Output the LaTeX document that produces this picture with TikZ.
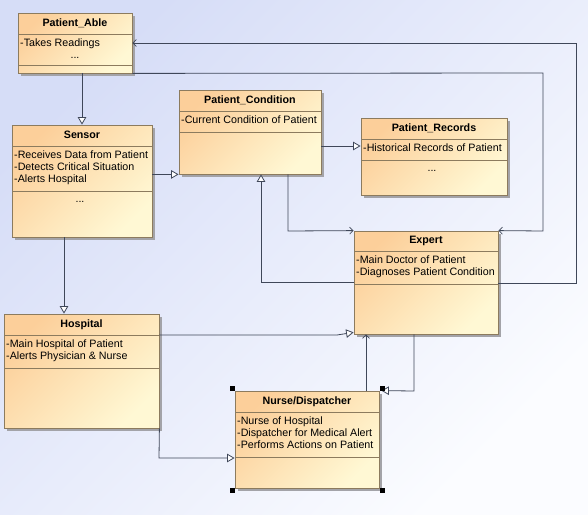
\documentclass[tikz,border=0pt]{standalone}
\usepackage{fontspec}
\setmainfont{Liberation Sans}
\usetikzlibrary{arrows.meta,calc}
\definecolor{bgA}{HTML}{D6DDF7}
\definecolor{bgB}{HTML}{FBFCFF}
\definecolor{clsA}{HTML}{FCCF9A}
\definecolor{clsB}{HTML}{FFF8D4}
\definecolor{clsBorder}{HTML}{8C7B5E}
\definecolor{lineC}{HTML}{3F4759}
\definecolor{shadowC}{HTML}{A3A3A8}
\tikzset{
  cls/.style={draw=clsBorder, line width=0.8pt, rectangle, inner sep=0pt,
    top color=clsA, bottom color=clsB, shading angle=45},
  divc/.style={draw=clsBorder, line width=0.8pt},
  shadowc/.style={fill=shadowC},
  ttl/.style={font=\fontsize{10.7}{12}\selectfont\bfseries, inner sep=0pt, anchor=base},
  txt/.style={font=\fontsize{10.7}{12}\selectfont, inner sep=0pt, anchor=base west},
  dots/.style={font=\fontsize{10.7}{12}\selectfont, inner sep=0pt, anchor=base},
  gen/.style={draw=lineC, line width=0.8pt, -{Triangle[open, length=7.5pt, width=8.5pt, fill=white]}},
  dep/.style={draw=lineC, line width=0.8pt, -{Straight Barb[length=3.5pt, width=7pt, line width=0.7pt]}},
  handle/.style={fill=black}
}
% #1 name, #2 x1, #3 y1, #4 x2, #5 y2, #6 header divider, #7 attribute divider, #8 title
\newcommand\umlbox[8]{%
  \fill[shadowc] (#2+3,#3+3) rectangle (#4+3,#5+3);
  \node[cls, minimum width={(#4-#2)*1pt}, minimum height={(#5-#3)*1pt}] (#1) at ({(#2+#4)/2},{(#3+#5)/2}) {};
  \draw[divc] (#2,#6) -- (#4,#6) (#2,#7) -- (#4,#7);
  \node[ttl] (#1-title) at ({(#2+#4)/2},#6-7.5) {#8};
}
\begin{document}
\begin{tikzpicture}[x=1pt,y=-1pt]
\shade[top color=bgA, bottom color=bgB, shading angle=45] (0,0) rectangle (588,514);
\useasboundingbox (0,0) rectangle (588,514);

% classes
\umlbox{pa}{18}{13}{132}{73}{34}{65}{Patient\_Able}
\node[txt] (pa-a1) at (20,46.5) {-Takes Readings};
\node[dots] (pa-a2) at (75,58) {...};

\umlbox{se}{12}{125}{152}{237}{146}{191}{Sensor}
\node[txt] (se-a1) at (14,158.5) {-Receives Data from Patient};
\node[txt] (se-a2) at (14,170.5) {-Detects Critical Situation};
\node[txt] (se-a3) at (14,182.5) {-Alerts Hospital};
\node[dots] (se-o1) at (80,202) {...};

\umlbox{pc}{179}{90}{321}{174}{111}{132}{Patient\_Condition}
\node[txt] (pc-a1) at (181,123.5) {-Current Condition of Patient};

\umlbox{pr}{361}{118}{507}{195}{139}{160}{Patient\_Records}
\node[txt] (pr-a1) at (363,151.5) {-Historical Records of Patient};
\node[dots] (pr-o1) at (432,171) {...};

\umlbox{ex}{354}{231}{498}{334}{251}{284}{Expert}
\node[txt] (ex-a1) at (356,263.5) {-Main Doctor of Patient};
\node[txt] (ex-a2) at (356,275.5) {-Diagnoses Patient Condition};

\umlbox{ho}{4}{314}{159}{428}{335}{368}{Hospital}
\node[txt] (ho-a1) at (6,347.5) {-Main Hospital of Patient};
\node[txt] (ho-a2) at (6,359.5) {-Alerts Physician \& Nurse};

\umlbox{nd}{235}{391}{379}{488}{412}{457}{Nurse/Dispatcher}
\node[txt] (nd-a1) at (237,424.5) {-Nurse of Hospital};
\node[txt] (nd-a2) at (237,436.5) {-Dispatcher for Medical Alert};
\node[txt] (nd-a3) at (237,448.5) {-Performs Actions on Patient};

% bend points
\coordinate (k3) at (340,146);
\coordinate (k4) at (64,280);
\coordinate (k5a) at (576,43);
\coordinate (k5b) at (576,283);
\coordinate (k6a) at (543,73);
\coordinate (k6b) at (543,231);
\coordinate (k7) at (288,231);
\coordinate (k8) at (261,282);
\coordinate (k9) at (337,335);
\coordinate (k10) at (366,360);
\coordinate (k11) at (414,391);
\coordinate (k12) at (159,458);

% connectors
\draw[gen] (pa.south -| se.north) -- (se.north);
\draw[gen] (se.east |- pc.south) -- (pc.south west);
\draw[gen] (pc.east |- k3) -- (pr.west |- k3);
\draw[gen] (se.south -| k4) -- (ho.north -| k4);
\draw[dep] (ex.east |- k5b) -- (k5b) -- (k5a) -- (pa.east |- k5a);
\draw[dep] (pa.south east) -- (k6a) -- (k6b) -- (ex.north east);
\draw[dep] (pc.south -| k7) -- (k7) -- (ex.north west);
\draw[gen] (ex.west |- k8) -- (k8) -- (pc.south -| k8);
\draw[gen] (ho.east |- k9) -- (k9) -- ([yshift=2pt]ex.south west);
\draw[dep] (nd.north -| k10) -- (ex.south -| k10);
\draw[gen] (ex.south -| k11) -- (k11) -- ([xshift=2pt]nd.north east);
\draw[gen] (ho.south east) -- (k12) -- (nd.west |- k12);

% selection handles
\fill[handle] (229.5,385.5) rectangle (234.5,390.5);
\fill[handle] (379.5,385.5) rectangle (384.5,390.5);
\fill[handle] (229.5,488) rectangle (234.5,493);
\fill[handle] (379.5,488) rectangle (384.5,493);
\end{tikzpicture}
\end{document}
